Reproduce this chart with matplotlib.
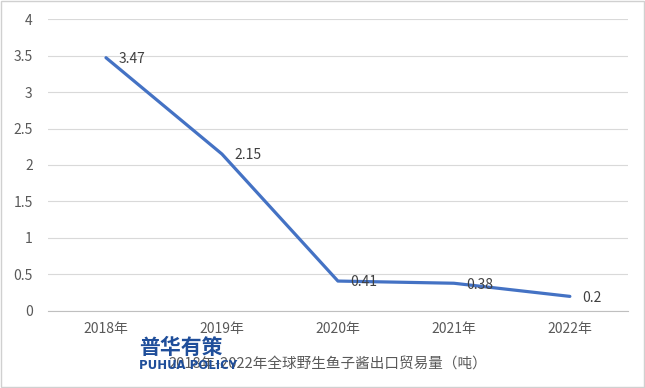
import matplotlib.pyplot as plt
from matplotlib.patches import Rectangle

plt.rcParams['font.family'] = ['Noto Sans CJK SC', 'DejaVu Sans']

# data
years = ['2018年', '2019年', '2020年', '2021年', '2022年']
volume = [3.47, 2.15, 0.41, 0.38, 0.2]
title = '2018年-2022年全球野生鱼子酱出口贸易量（吨）'

fig = plt.figure(figsize=(6.45, 3.88), dpi=100)
ax = fig.add_axes([0.0744, 0.1985, 0.899, 0.7525])

x = list(range(len(years)))
ax.plot(x, volume, color='#4472C4', linewidth=2.3, solid_capstyle='round', zorder=3)

# data labels, to the right of each point
for xi, v in zip(x, volume):
    ax.annotate(f'{v:g}', (xi, v), xytext=(9, -1), textcoords='offset points',
                ha='left', va='center', fontsize=10, color='#404040', zorder=4)

ax.set_xlim(-0.5, len(years) - 0.5)
ax.set_ylim(0, 4)
ax.set_yticks([0, 0.5, 1, 1.5, 2, 2.5, 3, 3.5, 4])
ax.set_yticklabels(['0', '0.5', '1', '1.5', '2', '2.5', '3', '3.5', '4'])
ax.set_xticks(x)
ax.set_xticklabels(years)
ax.tick_params(axis='both', length=0, labelsize=10, labelcolor='#595959')
ax.tick_params(axis='y', pad=11)
ax.tick_params(axis='x', pad=8)
ax.grid(axis='y', color='#D9D9D9', linewidth=0.8)
ax.set_axisbelow(True)
for s in ['top', 'right', 'left']:
    ax.spines[s].set_visible(False)
ax.spines['bottom'].set_color('#BFBFBF')
ax.spines['bottom'].set_linewidth(0.8)

# chart title at the bottom
fig.text(0.508, 0.060, title, ha='center', va='center', fontsize=10.5, color='#595959')

# watermark drawn over the title
fig.text(0.215, 0.104, '普华有策', ha='left', va='center', fontsize=15,
         fontweight='heavy', color='#1F4E9A', zorder=5)
fig.text(0.215, 0.058, 'PUHUA POLICY', ha='left', va='center', fontsize=8.5,
         fontweight='bold', color='#1F4E9A', family='DejaVu Sans', zorder=5)

# outer border
fig.patches.append(Rectangle((0.002, 0.003), 0.996, 0.994, transform=fig.transFigure,
                             fill=False, edgecolor='#D0D0D0', linewidth=1))

fig.savefig('out.png', dpi=100)
